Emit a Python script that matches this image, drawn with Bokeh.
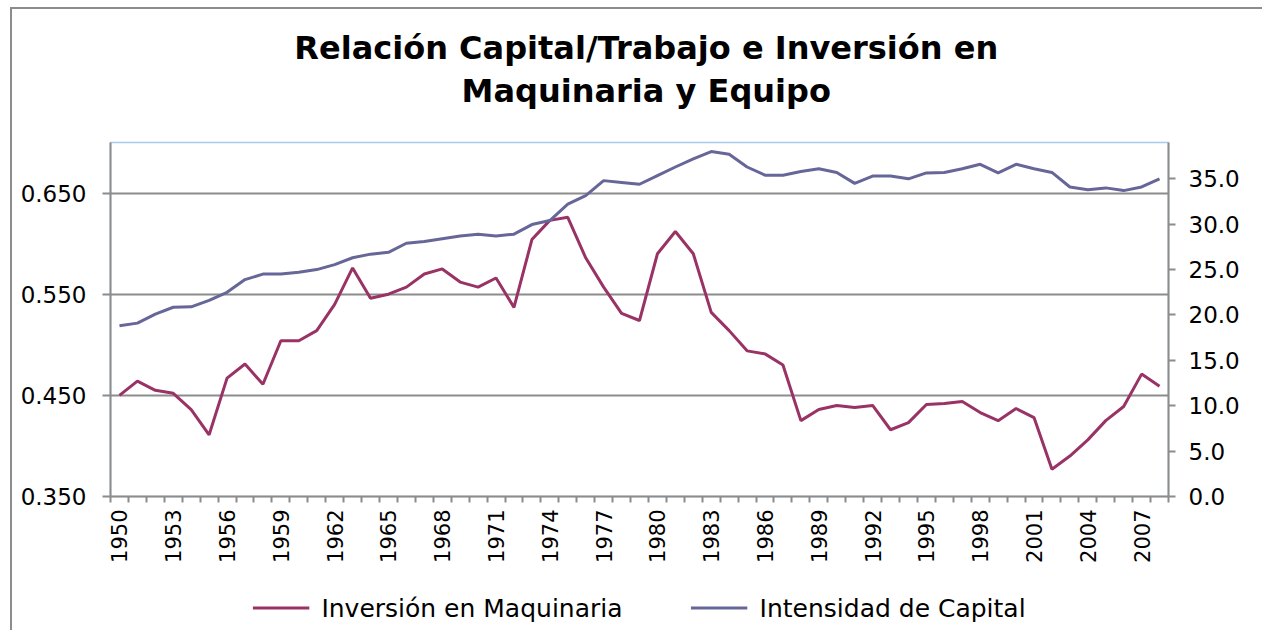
import numpy as np
from bokeh.plotting import figure
from bokeh.layouts import column
from bokeh.models import (Range1d, LinearAxis, FixedTicker, NumeralTickFormatter,
                          PrintfTickFormatter, Legend, LegendItem)
from bokeh.core.properties import value
from bokeh.embed import file_html
from bokeh.resources import INLINE

# ---------------- data ----------------
years = list(range(1950, 2009))

inversion_maquinaria = [
    0.450, 0.464, 0.455, 0.452, 0.436, 0.411, 0.467, 0.481, 0.461, 0.504,
    0.504, 0.514, 0.540, 0.576, 0.546, 0.550, 0.557, 0.570, 0.575, 0.562,
    0.557, 0.566, 0.537, 0.604, 0.623, 0.626, 0.586, 0.557, 0.531, 0.524,
    0.590, 0.612, 0.590, 0.532, 0.514, 0.494, 0.491, 0.480, 0.425, 0.436,
    0.440, 0.438, 0.440, 0.416, 0.423, 0.441, 0.442, 0.444, 0.433, 0.425,
    0.437, 0.428, 0.377, 0.390, 0.406, 0.425, 0.439, 0.471, 0.459,
]

intensidad_capital = [
    18.8, 19.1, 20.1, 20.85, 20.9, 21.6, 22.5, 23.9, 24.5, 24.5,
    24.7, 25.0, 25.55, 26.3, 26.7, 26.9, 27.9, 28.1, 28.4, 28.7,
    28.9, 28.7, 28.9, 29.96, 30.4, 32.2, 33.15, 34.8, 34.6, 34.4,
    35.35, 36.3, 37.2, 38.0, 37.7, 36.3, 35.4, 35.4, 35.8, 36.1,
    35.7, 34.5, 35.3, 35.3, 35.0, 35.65, 35.7, 36.1, 36.6, 35.65,
    36.6, 36.1, 35.7, 34.1, 33.8, 34.0, 33.7, 34.1, 35.0,
]

year_labels = list(range(1950, 2008, 3))
left_ticks = [0.35, 0.45, 0.55, 0.65]
right_ticks = [0, 5, 10, 15, 20, 25, 30, 35]

title_lines = ["Relación Capital/Trabajo e Inversión en", "Maquinaria y Equipo"]
name_inv = "Inversión en Maquinaria"
name_int = "Intensidad de Capital"

# ---------------- style ----------------
RED = "#993366"
BLUE = "#666699"
GRAY = "#8c8c8c"
FONT = "DejaVu Sans"
W = 1250          # width of every strip
OX, OY = 12, 9    # page offset of the strips (margin + chart border)

boundaries = [y - 0.5 for y in years] + [years[-1] + 0.5]

# ---------------- title strip ----------------
TH = 142 - OY - 22
pt = figure(width=W, height=TH, output_backend="svg", toolbar_location=None,
            x_axis_type=None, y_axis_type=None,
            x_range=Range1d(0, W), y_range=Range1d(TH, 0), min_border=0)
pt.xgrid.visible = False
pt.ygrid.visible = False
pt.outline_line_color = None
pt.background_fill_color = "white"
pt.border_fill_color = "white"
pt.text(x=[645 - OX, 645 - OX], y=[47 - OY, 90 - OY], text=title_lines,
        text_font=value(FONT), text_font_size="32px", text_font_style="bold",
        text_color="black", text_align="center", text_baseline="middle")

# ---------------- main chart ----------------
p = figure(width=W, height=465, output_backend="svg", toolbar_location=None,
           title=None,
           x_range=Range1d(years[0] - 0.5, years[-1] + 0.5),
           y_range=Range1d(0.35, 0.70),
           min_border_left=110 - OX, min_border_right=W - (1168 - OX),
           min_border_top=22, min_border_bottom=89)
p.background_fill_color = "white"
p.border_fill_color = "white"
p.outline_line_color = "#a6caf0"
p.outline_line_width = 1.5

p.extra_y_ranges = {"right": Range1d(0, 39.0)}

# x axis
xa = p.xaxis[0]
xa.ticker = FixedTicker(ticks=year_labels, minor_ticks=boundaries)
xa.formatter = PrintfTickFormatter(format="%d")
xa.major_tick_out = 0
xa.major_tick_in = 0
xa.minor_tick_out = 6
xa.minor_tick_in = 0
xa.minor_tick_line_color = GRAY
xa.minor_tick_line_width = 2
xa.axis_line_color = GRAY
xa.axis_line_width = 2
xa.major_label_orientation = np.pi / 2
xa.major_label_standoff = 7
xa.major_label_text_font = FONT
xa.major_label_text_font_size = "21px"
xa.major_label_text_color = "black"

# left axis
ya = p.yaxis[0]
ya.ticker = FixedTicker(ticks=left_ticks)
ya.formatter = NumeralTickFormatter(format="0.000")
ya.major_tick_out = 8
ya.major_tick_in = 0
ya.minor_tick_out = 0
ya.minor_tick_in = 0
ya.major_tick_line_color = GRAY
ya.major_tick_line_width = 2
ya.axis_line_color = GRAY
ya.axis_line_width = 2
ya.major_label_standoff = 16
ya.major_label_text_font = FONT
ya.major_label_text_font_size = "23px"
ya.major_label_text_color = "black"

# right axis
ra = LinearAxis(y_range_name="right", ticker=FixedTicker(ticks=right_ticks),
                formatter=NumeralTickFormatter(format="0.0"))
ra.major_tick_out = 7
ra.major_tick_in = 0
ra.minor_tick_out = 0
ra.minor_tick_in = 0
ra.major_tick_line_color = GRAY
ra.major_tick_line_width = 2
ra.axis_line_color = GRAY
ra.axis_line_width = 2
ra.major_label_standoff = 13
ra.major_label_text_font = FONT
ra.major_label_text_font_size = "23px"
ra.major_label_text_color = "black"
p.add_layout(ra, "right")

# grid
p.xgrid.visible = False
p.ygrid.grid_line_color = GRAY
p.ygrid.grid_line_width = 2

# lines
p.line(years, inversion_maquinaria, line_color=RED, line_width=3)
p.line(years, intensidad_capital, line_color=BLUE, line_width=3,
       y_range_name="right")

# ---------------- legend strip ----------------
pl = figure(width=W, height=45, output_backend="svg", toolbar_location=None,
            x_axis_type=None, y_axis_type=None,
            x_range=Range1d(0, 1), y_range=Range1d(0, 1), min_border=0)
pl.xgrid.visible = False
pl.ygrid.visible = False
pl.outline_line_color = None
pl.background_fill_color = "white"
pl.border_fill_color = "white"
# same series, outside this strip's ranges: only their legend samples show
lr_inv = pl.line(years, inversion_maquinaria, line_color=RED, line_width=3)
lr_int = pl.line(years, intensidad_capital, line_color=BLUE, line_width=3)
legend = Legend(items=[LegendItem(label=name_inv, renderers=[lr_inv]),
                       LegendItem(label=name_int, renderers=[lr_int])],
                orientation="horizontal", location="center",
                glyph_width=57, glyph_height=20, label_standoff=12, spacing=68,
                border_line_color=None, background_fill_alpha=0,
                label_text_font=FONT, label_text_font_size="25px",
                label_text_color="black", margin=0, padding=0)
pl.add_layout(legend, "center")

layout = column(pt, p, pl, spacing=0, margin=(OY - 2, 0, 0, OX - 2),
                styles={"border-left": "2px solid #8c8c8c",
                        "border-top": "2px solid #8c8c8c"})
open("out.html", "w").write(file_html(layout, INLINE))
